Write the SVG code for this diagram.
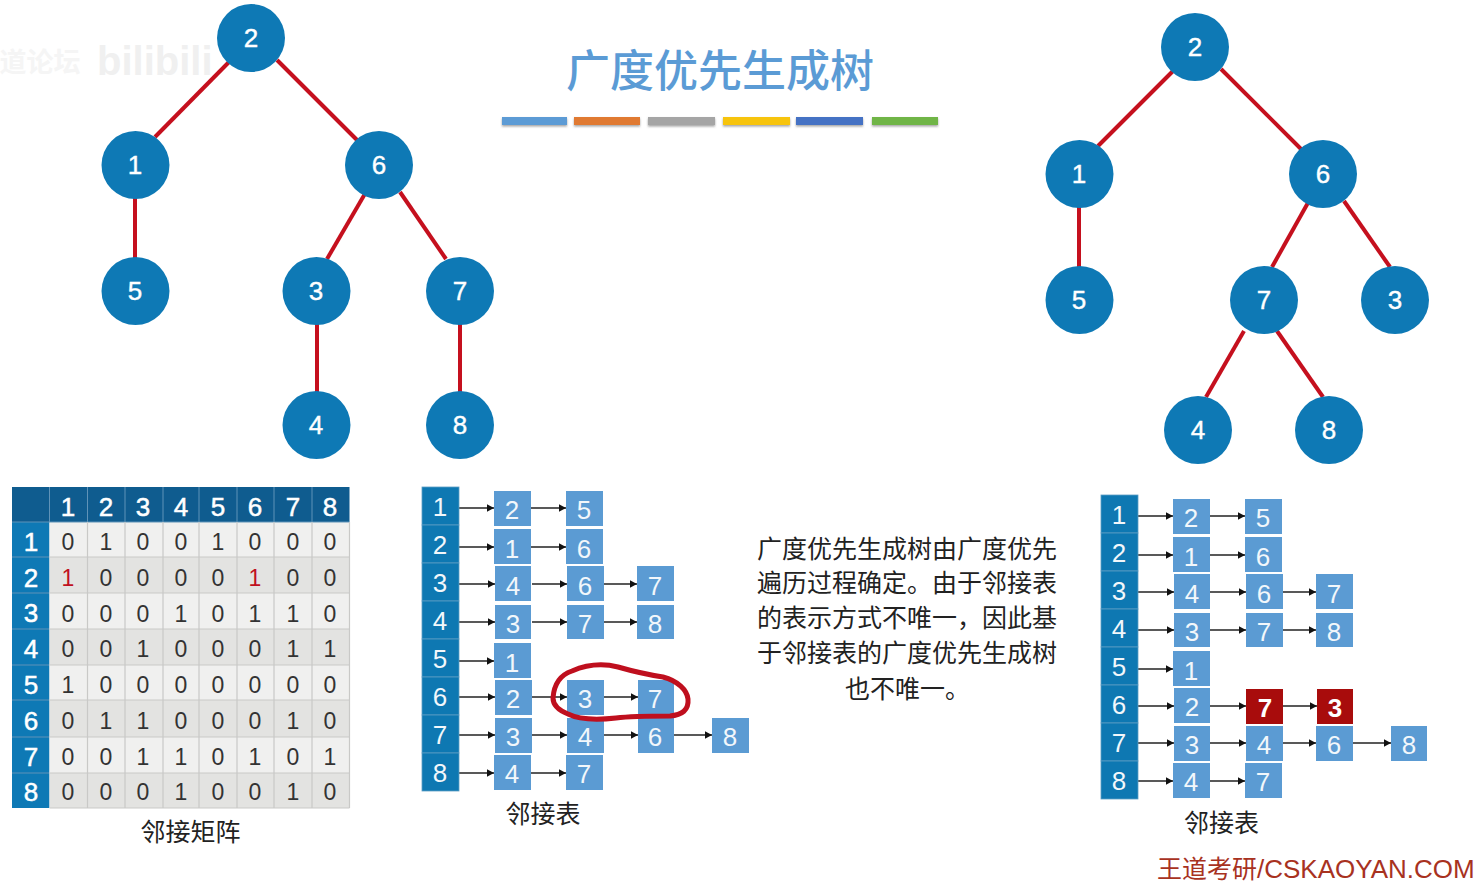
<svg xmlns="http://www.w3.org/2000/svg" width="1477" height="881" viewBox="0 0 1477 881">
<style>
text{font-family:"Liberation Sans","Noto Sans CJK SC",sans-serif;text-anchor:middle}
.cjk{font-family:"Noto Sans CJK SC","Liberation Sans",sans-serif}
.tn circle{fill:#0e79b5}
.tn text{font-size:26px;fill:#fff;stroke:#fff;stroke-width:.4}
.edge{stroke:#c5101e;stroke-width:4;fill:none}
.hd{fill:#0f5c8f}
.lc{fill:#0e79b5}
.rowa{fill:#f0f0ef}
.rowb{fill:#e3e3e1}
.gl{stroke:#c9c9c7;stroke-width:1.2;fill:none}
.gw{stroke:#5f93b8;stroke-width:1;fill:none}
.m text{font-size:23px;fill:#333}
.m text.r{fill:#c01020}
.m text.w{font-size:26px;fill:#fff;stroke:#fff;stroke-width:.5}
.k{fill:#0e78b2;stroke:#5c9dc4;stroke-width:.8}
.b{fill:#5b9bd3}
.d{fill:#a80c0c}
.l text{font-size:26px;fill:#f2f7fb}
.a{stroke:#222;stroke-width:1.4;fill:none;marker-end:url(#ah)}
.cap{font-size:25px;fill:#222}
.para{font-size:25px;fill:#222;text-anchor:start}
</style>
<defs>
<marker id="ah" markerUnits="userSpaceOnUse" markerWidth="8" markerHeight="9" refX="7.5" refY="4.5" orient="auto"><path d="M0 .5L7.5 4.5L0 8.5z" fill="#111"/></marker>
<filter id="sh" x="-10%" y="-50%" width="120%" height="220%"><feDropShadow dx="0" dy="1.5" stdDeviation="1.3" flood-color="#555" flood-opacity=".55"/></filter>
</defs>
<rect width="1477" height="881" fill="#fff"/>
<g id="watermark">
<text x="40" y="72" class="cjk" font-size="27" font-weight="700" style="fill:#f5f5f5">道论坛</text>
<text x="97" y="75" font-size="40" font-weight="700" style="fill:#f0f0f0;text-anchor:start">bilibili</text>
</g>
<g id="title">
<text x="720" y="87" class="cjk" font-size="44" font-weight="500" fill="#5b9bd5">广度优先生成树</text>
<g filter="url(#sh)">
<rect x="502" y="117" width="65" height="8" fill="#5b9bd5"/>
<rect x="574" y="117" width="66" height="8" fill="#e07a32"/>
<rect x="648" y="117" width="67" height="8" fill="#a5a5a5"/>
<rect x="723" y="117" width="67" height="8" fill="#f7c40f"/>
<rect x="796" y="117" width="67" height="8" fill="#4472c4"/>
<rect x="872" y="117" width="66" height="8" fill="#70b547"/>
</g>
</g>
<g id="connectors">
<g id="tree1-edges">
<path class="edge" d="M229 62L155 137"/>
<path class="edge" d="M277 60L357 140"/>
<path class="edge" d="M135 192V258"/>
<path class="edge" d="M366 192L327 259"/>
<path class="edge" d="M400 192L446 259"/>
<path class="edge" d="M317 323V392"/>
<path class="edge" d="M460 323V392"/>
</g>
<g id="tree2-edges">
<path class="edge" d="M1173 71L1098 146"/>
<path class="edge" d="M1221 69L1301 149"/>
<path class="edge" d="M1079 201V267"/>
<path class="edge" d="M1309 201L1272 267"/>
<path class="edge" d="M1344 201L1390 267"/>
<path class="edge" d="M1244 331L1206 397"/>
<path class="edge" d="M1277 331L1323 397"/>
</g>
<g id="list1-arrows">
<path class="a" d="M459 508H494"/><path class="a" d="M531 508H566"/>
<path class="a" d="M459 547H494"/><path class="a" d="M531 547H566"/>
<path class="a" d="M459 584H495"/><path class="a" d="M532 584H567"/><path class="a" d="M604 584H637"/>
<path class="a" d="M459 622H495"/><path class="a" d="M532 622H567"/><path class="a" d="M604 622H637"/>
<path class="a" d="M459 661H494"/>
<path class="a" d="M459 697H495"/><path class="a" d="M532 697H567"/><path class="a" d="M604 697H638"/>
<path class="a" d="M459 735H495"/><path class="a" d="M532 735H567"/><path class="a" d="M604 735H638"/><path class="a" d="M674 735H712"/>
<path class="a" d="M459 773H494"/><path class="a" d="M531 773H566"/>
</g>
<g id="list2-arrows" transform="translate(679,8)">
<path class="a" d="M459 508H494"/><path class="a" d="M531 508H566"/>
<path class="a" d="M459 547H494"/><path class="a" d="M531 547H566"/>
<path class="a" d="M459 584H495"/><path class="a" d="M531 584H567"/><path class="a" d="M604 584H637"/>
<path class="a" d="M459 622H495"/><path class="a" d="M531 622H567"/><path class="a" d="M604 622H637"/>
<path class="a" d="M459 661H494"/>
<path class="a" d="M459 698H495"/><path class="a" d="M531 698H567"/><path class="a" d="M604 698H638"/>
<path class="a" d="M459 735H495"/><path class="a" d="M531 735H567"/><path class="a" d="M604 735H637"/><path class="a" d="M674 735H712"/>
<path class="a" d="M459 773H494"/><path class="a" d="M531 773H566"/>
</g>
</g>
<g id="tree1">
<g id="t1-2" class="tn"><circle cx="251" cy="38" r="34"/><text x="251" y="47">2</text></g>
<g id="t1-1" class="tn"><circle cx="135.500" cy="165" r="34"/><text x="135" y="174">1</text></g>
<g id="t1-6" class="tn"><circle cx="379" cy="165" r="34"/><text x="379" y="174">6</text></g>
<g id="t1-5" class="tn"><circle cx="135.500" cy="291" r="34"/><text x="135" y="300">5</text></g>
<g id="t1-3" class="tn"><circle cx="316.500" cy="291" r="34"/><text x="316" y="300">3</text></g>
<g id="t1-7" class="tn"><circle cx="460" cy="291" r="34"/><text x="460" y="300">7</text></g>
<g id="t1-4" class="tn"><circle cx="316.500" cy="425" r="34"/><text x="316" y="434">4</text></g>
<g id="t1-8" class="tn"><circle cx="460" cy="425" r="34"/><text x="460" y="434">8</text></g>
</g>
<g id="tree2">
<g id="t2-2" class="tn"><circle cx="1195" cy="47" r="34"/><text x="1195" y="56">2</text></g>
<g id="t2-1" class="tn"><circle cx="1079.500" cy="174" r="34"/><text x="1079" y="183">1</text></g>
<g id="t2-6" class="tn"><circle cx="1323" cy="174" r="34"/><text x="1323" y="183">6</text></g>
<g id="t2-5" class="tn"><circle cx="1079.500" cy="300" r="34"/><text x="1079" y="309">5</text></g>
<g id="t2-7" class="tn"><circle cx="1264" cy="300" r="34"/><text x="1264" y="309">7</text></g>
<g id="t2-3" class="tn"><circle cx="1395" cy="300" r="34"/><text x="1395" y="309">3</text></g>
<g id="t2-4" class="tn"><circle cx="1198" cy="430" r="34"/><text x="1198" y="439">4</text></g>
<g id="t2-8" class="tn"><circle cx="1329" cy="430" r="34"/><text x="1329" y="439">8</text></g>
</g>
<g id="matrix" class="m">
<rect x="12" y="487" width="337.500" height="35" class="hd"/>
<rect x="12" y="522" width="37.500" height="286" class="lc"/>
<rect x="49.500" y="522" width="300" height="35" class="rowa"/>
<rect x="49.500" y="557" width="300" height="36" class="rowb"/>
<rect x="49.500" y="593" width="300" height="36" class="rowa"/>
<rect x="49.500" y="629" width="300" height="36" class="rowb"/>
<rect x="49.500" y="665" width="300" height="35" class="rowa"/>
<rect x="49.500" y="700" width="300" height="37" class="rowb"/>
<rect x="49.500" y="737" width="300" height="36" class="rowa"/>
<rect x="49.500" y="773" width="300" height="35" class="rowb"/>
<path class="gw" d="M49.500 487V522M87.500 487V522M125 487V522M163 487V522M199 487V522M237 487V522M274 487V522M312 487V522M12 522H349M12 557H49M12 593H49M12 629H49M12 665H49M12 700H49M12 737H49M12 773H49"/>
<path class="gl" d="M87.500 522V808M125 522V808M163 522V808M199 522V808M237 522V808M274 522V808M312 522V808M49.500 557H349.500M49.500 593H349.500M49.500 629H349.500M49.500 665H349.500M49.500 700H349.500M49.500 737H349.500M49.500 773H349.500M49.500 808H349.500M349.500 522V808"/>
<text class="w" x="68" y="516">1</text><text class="w" x="106" y="516">2</text><text class="w" x="143" y="516">3</text><text class="w" x="181" y="516">4</text><text class="w" x="218" y="516">5</text><text class="w" x="255" y="516">6</text><text class="w" x="293" y="516">7</text><text class="w" x="330" y="516">8</text>
<text class="w" x="31" y="551">1</text><text class="w" x="31" y="587">2</text><text class="w" x="31" y="622">3</text><text class="w" x="31" y="658">4</text><text class="w" x="31" y="694">5</text><text class="w" x="31" y="730">6</text><text class="w" x="31" y="766">7</text><text class="w" x="31" y="801">8</text>
<text x="68" y="550">0</text><text x="106" y="550">1</text><text x="143" y="550">0</text><text x="181" y="550">0</text><text x="218" y="550">1</text><text x="255" y="550">0</text><text x="293" y="550">0</text><text x="330" y="550">0</text>
<text class="r" x="68" y="586">1</text><text x="106" y="586">0</text><text x="143" y="586">0</text><text x="181" y="586">0</text><text x="218" y="586">0</text><text class="r" x="255" y="586">1</text><text x="293" y="586">0</text><text x="330" y="586">0</text>
<text x="68" y="622">0</text><text x="106" y="622">0</text><text x="143" y="622">0</text><text x="181" y="622">1</text><text x="218" y="622">0</text><text x="255" y="622">1</text><text x="293" y="622">1</text><text x="330" y="622">0</text>
<text x="68" y="657">0</text><text x="106" y="657">0</text><text x="143" y="657">1</text><text x="181" y="657">0</text><text x="218" y="657">0</text><text x="255" y="657">0</text><text x="293" y="657">1</text><text x="330" y="657">1</text>
<text x="68" y="693">1</text><text x="106" y="693">0</text><text x="143" y="693">0</text><text x="181" y="693">0</text><text x="218" y="693">0</text><text x="255" y="693">0</text><text x="293" y="693">0</text><text x="330" y="693">0</text>
<text x="68" y="729">0</text><text x="106" y="729">1</text><text x="143" y="729">1</text><text x="181" y="729">0</text><text x="218" y="729">0</text><text x="255" y="729">0</text><text x="293" y="729">1</text><text x="330" y="729">0</text>
<text x="68" y="765">0</text><text x="106" y="765">0</text><text x="143" y="765">1</text><text x="181" y="765">1</text><text x="218" y="765">0</text><text x="255" y="765">1</text><text x="293" y="765">0</text><text x="330" y="765">1</text>
<text x="68" y="800">0</text><text x="106" y="800">0</text><text x="143" y="800">0</text><text x="181" y="800">1</text><text x="218" y="800">0</text><text x="255" y="800">0</text><text x="293" y="800">1</text><text x="330" y="800">0</text>
</g>
<text class="cap cjk" x="190.500" y="841">邻接矩阵</text>
<g id="list1" class="l">
<g id="l1-keys">
<rect class="k" x="422" y="487" width="37" height="38"/><rect class="k" x="422" y="525" width="37" height="38"/><rect class="k" x="422" y="563" width="37" height="38"/><rect class="k" x="422" y="601" width="37" height="38"/><rect class="k" x="422" y="639" width="37" height="38"/><rect class="k" x="422" y="677" width="37" height="38"/><rect class="k" x="422" y="715" width="37" height="38"/><rect class="k" x="422" y="753" width="37" height="38"/>
<text x="440" y="516">1</text><text x="440" y="554">2</text><text x="440" y="592">3</text><text x="440" y="630">4</text><text x="440" y="668">5</text><text x="440" y="706">6</text><text x="440" y="744">7</text><text x="440" y="782">8</text>
</g>
<g id="l1-row1"><rect class="b" x="494" y="491" width="37" height="35"/><text x="512" y="519">2</text><rect class="b" x="566" y="491" width="37" height="35"/><text x="584" y="519">5</text></g>
<g id="l1-row2"><rect class="b" x="494" y="529" width="37" height="35"/><text x="512" y="558">1</text><rect class="b" x="566" y="529" width="37" height="35"/><text x="584" y="558">6</text></g>
<g id="l1-row3"><rect class="b" x="495" y="566" width="36" height="35"/><text x="513" y="595">4</text><rect class="b" x="567" y="566" width="37" height="35"/><text x="585" y="595">6</text><rect class="b" x="637" y="566" width="37" height="35"/><text x="655" y="595">7</text></g>
<g id="l1-row4"><rect class="b" x="495" y="605" width="36" height="34"/><text x="513" y="633">3</text><rect class="b" x="567" y="605" width="37" height="34"/><text x="585" y="633">7</text><rect class="b" x="637" y="605" width="37" height="34"/><text x="655" y="633">8</text></g>
<g id="l1-row5"><rect class="b" x="494" y="643" width="37" height="35"/><text x="512" y="672">1</text></g>
<g id="l1-row6"><rect class="b" x="495" y="680" width="37" height="35"/><text x="513" y="708">2</text><rect class="b" x="567" y="680" width="37" height="35"/><text x="585" y="708">3</text><rect class="b" x="638" y="680" width="36" height="35"/><text x="655" y="708">7</text></g>
<g id="l1-row7"><rect class="b" x="495" y="718" width="37" height="35"/><text x="513" y="746">3</text><rect class="b" x="567" y="718" width="37" height="35"/><text x="585" y="746">4</text><rect class="b" x="638" y="718" width="36" height="35"/><text x="655" y="746">6</text><rect class="b" x="712" y="718" width="37" height="35"/><text x="730" y="746">8</text></g>
<g id="l1-row8"><rect class="b" x="494" y="755" width="37" height="35"/><text x="512" y="783">4</text><rect class="b" x="566" y="755" width="37" height="35"/><text x="584" y="783">7</text></g>
</g>
<path id="loop" d="M553 698C554 684 560 675 572 671C586 665 602 663 618 667C632 671 650 675 663 677C678 681 687 690 688 699C689 710 682 715 670 716C650 716 632 716 616 718C598 720 580 720 568 714C558 710 553 705 553 698Z" fill="none" stroke="#bf0f1e" stroke-width="5"/>
<text class="cap cjk" x="543" y="823">邻接表</text>
<g id="description">
<text class="para cjk" x="757" y="558">广度优先生成树由广度优先</text>
<text class="para cjk" x="757" y="592">遍历过程确定。由于邻接表</text>
<text class="para cjk" x="757" y="627">的表示方式不唯一，因此基</text>
<text class="para cjk" x="757" y="662">于邻接表的广度优先生成树</text>
<text class="para cjk" x="845" y="698">也不唯一。</text>
</g>
<g id="list2" class="l" transform="translate(679,8)">
<g id="l2-keys">
<rect class="k" x="422" y="487" width="37" height="38"/><rect class="k" x="422" y="525" width="37" height="38"/><rect class="k" x="422" y="563" width="37" height="38"/><rect class="k" x="422" y="601" width="37" height="38"/><rect class="k" x="422" y="639" width="37" height="38"/><rect class="k" x="422" y="677" width="37" height="38"/><rect class="k" x="422" y="715" width="37" height="38"/><rect class="k" x="422" y="753" width="37" height="38"/>
<text x="440" y="516">1</text><text x="440" y="554">2</text><text x="440" y="592">3</text><text x="440" y="630">4</text><text x="440" y="668">5</text><text x="440" y="706">6</text><text x="440" y="744">7</text><text x="440" y="782">8</text>
</g>
<g id="l2-row1"><rect class="b" x="494" y="491" width="37" height="35"/><text x="512" y="519">2</text><rect class="b" x="566" y="491" width="37" height="35"/><text x="584" y="519">5</text></g>
<g id="l2-row2"><rect class="b" x="494" y="529" width="37" height="35"/><text x="512" y="558">1</text><rect class="b" x="566" y="529" width="37" height="35"/><text x="584" y="558">6</text></g>
<g id="l2-row3"><rect class="b" x="495" y="566" width="36" height="35"/><text x="513" y="595">4</text><rect class="b" x="567" y="566" width="37" height="35"/><text x="585" y="595">6</text><rect class="b" x="637" y="566" width="37" height="35"/><text x="655" y="595">7</text></g>
<g id="l2-row4"><rect class="b" x="495" y="605" width="36" height="34"/><text x="513" y="633">3</text><rect class="b" x="567" y="605" width="37" height="34"/><text x="585" y="633">7</text><rect class="b" x="637" y="605" width="37" height="34"/><text x="655" y="633">8</text></g>
<g id="l2-row5"><rect class="b" x="494" y="643" width="37" height="35"/><text x="512" y="672">1</text></g>
<g id="l2-row6"><rect class="b" x="495" y="680" width="36" height="35"/><text x="513" y="708">2</text><rect class="d" x="567" y="681" width="37" height="35"/><text x="586" y="709" font-weight="700" style="fill:#fff">7</text><rect class="d" x="638" y="681" width="36" height="35"/><text x="656" y="709" font-weight="700" style="fill:#fff">3</text></g>
<g id="l2-row7"><rect class="b" x="495" y="718" width="36" height="35"/><text x="513" y="746">3</text><rect class="b" x="567" y="718" width="37" height="35"/><text x="585" y="746">4</text><rect class="b" x="637" y="718" width="37" height="35"/><text x="655" y="746">6</text><rect class="b" x="712" y="718" width="36" height="35"/><text x="730" y="746">8</text></g>
<g id="l2-row8"><rect class="b" x="494" y="755" width="37" height="35"/><text x="512" y="783">4</text><rect class="b" x="566" y="755" width="37" height="35"/><text x="584" y="783">7</text></g>
</g>
<text class="cap cjk" x="1221.500" y="832">邻接表</text>
<text id="brand" x="1157" y="878" font-size="25" fill="#a8321f" style="text-anchor:start">王道考研<tspan font-size="26">/CSKAOYAN.COM</tspan></text>
</svg>
